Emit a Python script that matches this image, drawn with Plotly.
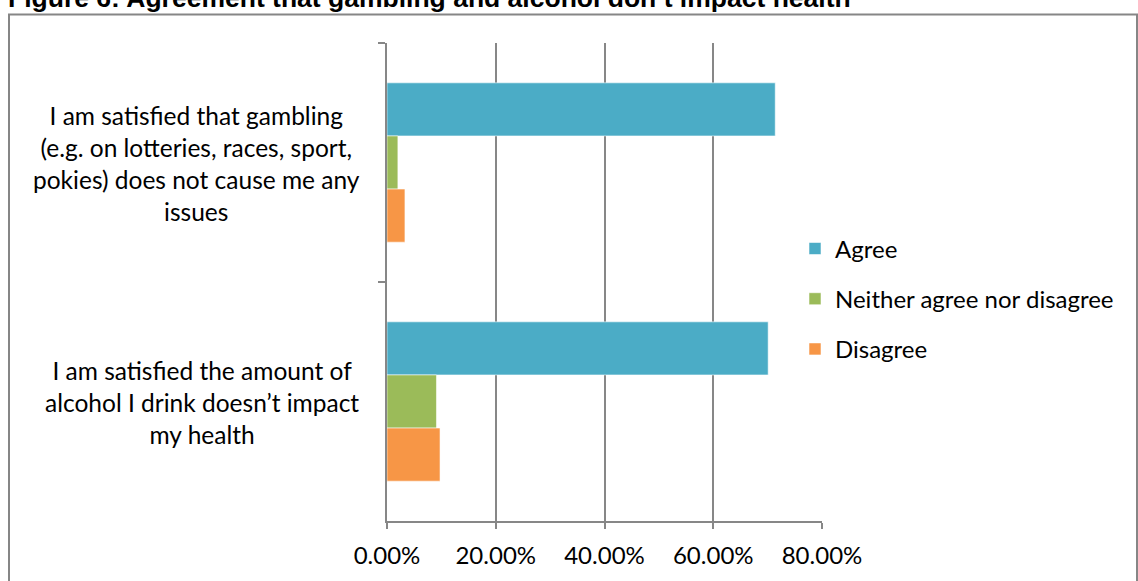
import plotly.graph_objects as go

# Survey statements (y categories) and their wrapped display text
categories = ["gambling", "alcohol"]
category_labels = [
    "I am satisfied that gambling<br>(e.g. on lotteries, races, sport,<br>pokies) does not cause me any<br>issues",
    "I am satisfied the amount of<br>alcohol I drink doesn’t impact<br>my health",
]

# Share of respondents per response (fractions)
agree = [0.714, 0.701]
neither = [0.020, 0.091]
disagree = [0.033, 0.0975]

series_names = ["Agree", "Neither agree nor disagree", "Disagree"]
series_colors = ["#4BACC6", "#9BBB59", "#F79646"]

x_ticks = [0, 0.2, 0.4, 0.6, 0.8]

title_text = "Figure 6: Agreement that gambling and alcohol don’t impact health"

FONT = "Lato, Carlito, Calibri, sans-serif"
GRID = "#878787"

W, H = 1138, 581
M_L, M_R, M_T, M_B = 387, 316, 43, 58
PW = W - M_L - M_R
PH = H - M_T - M_B


def px_to_paper_x(px):
    return (px - M_L) / PW


def px_to_paper_y(py):
    return (H - M_B - py) / PH


fig = go.Figure()
for name, vals, color in zip(series_names, [agree, neither, disagree], series_colors):
    fig.add_trace(
        go.Bar(
            x=vals,
            y=categories,
            orientation="h",
            name=name,
            legendgroup=name,
            marker=dict(color=color, line=dict(color="rgba(255,255,255,0.55)", width=1)),
            hoverinfo="x+name",
        )
    )

# Wrapped, centred category labels to the left of the axis
label_centres = [196, 202]
for cat, text, cx in zip(categories, category_labels, label_centres):
    fig.add_annotation(
        x=px_to_paper_x(cx),
        xref="paper",
        y=cat,
        yref="y",
        yshift=-1,
        text=text,
        showarrow=False,
        xanchor="center",
        yanchor="middle",
        align="center",
        font=dict(family=FONT, size=24.5, color="#000000"),
    )

# Figure caption above the framed chart
fig.add_annotation(
    x=px_to_paper_x(6),
    xref="paper",
    y=px_to_paper_y(-2),
    yref="paper",
    text=f"<b>{title_text}</b>",
    showarrow=False,
    xanchor="left",
    yanchor="middle",
    font=dict(family="Liberation Sans, Arial, sans-serif", size=26.5, color="#000000"),
)

# Chart frame
fig.add_shape(
    type="rect",
    xref="paper",
    yref="paper",
    x0=px_to_paper_x(9),
    x1=px_to_paper_x(1137),
    y0=px_to_paper_y(620),
    y1=px_to_paper_y(14.5),
    line=dict(color="#868686", width=2),
    fillcolor="rgba(0,0,0,0)",
    layer="below",
)

fig.update_layout(
    width=W,
    height=H,
    margin=dict(l=M_L, r=M_R, t=M_T, b=M_B, pad=0),
    paper_bgcolor="white",
    plot_bgcolor="white",
    barmode="group",
    bargap=1 / 3,
    bargroupgap=0,
    font=dict(family=FONT, size=24, color="#000000"),
    legend=dict(
        x=px_to_paper_x(795),
        xanchor="left",
        y=px_to_paper_y(300),
        yanchor="middle",
        traceorder="grouped",
        tracegroupgap=16,
        font=dict(family=FONT, size=24, color="#000000"),
        bgcolor="rgba(0,0,0,0)",
    ),
    xaxis=dict(
        range=[0, 0.8],
        tickvals=x_ticks,
        tickformat=".2%",
        showgrid=True,
        gridcolor=GRID,
        gridwidth=1.5,
        zeroline=False,
        showline=True,
        linecolor=GRID,
        linewidth=1.5,
        ticks="outside",
        ticklen=6,
        tickwidth=1.5,
        tickcolor=GRID,
        ticklabelstandoff=6,
        tickfont=dict(family=FONT, size=24, color="#000000"),
        fixedrange=True,
    ),
    yaxis=dict(
        categoryorder="array",
        categoryarray=categories,
        autorange="reversed",
        showticklabels=False,
        showgrid=False,
        zeroline=False,
        showline=True,
        linecolor=GRID,
        linewidth=1.5,
        ticks="outside",
        tickson="boundaries",
        ticklen=7,
        tickwidth=1.5,
        tickcolor=GRID,
        fixedrange=True,
    ),
)

fig.write_html("out.html")
